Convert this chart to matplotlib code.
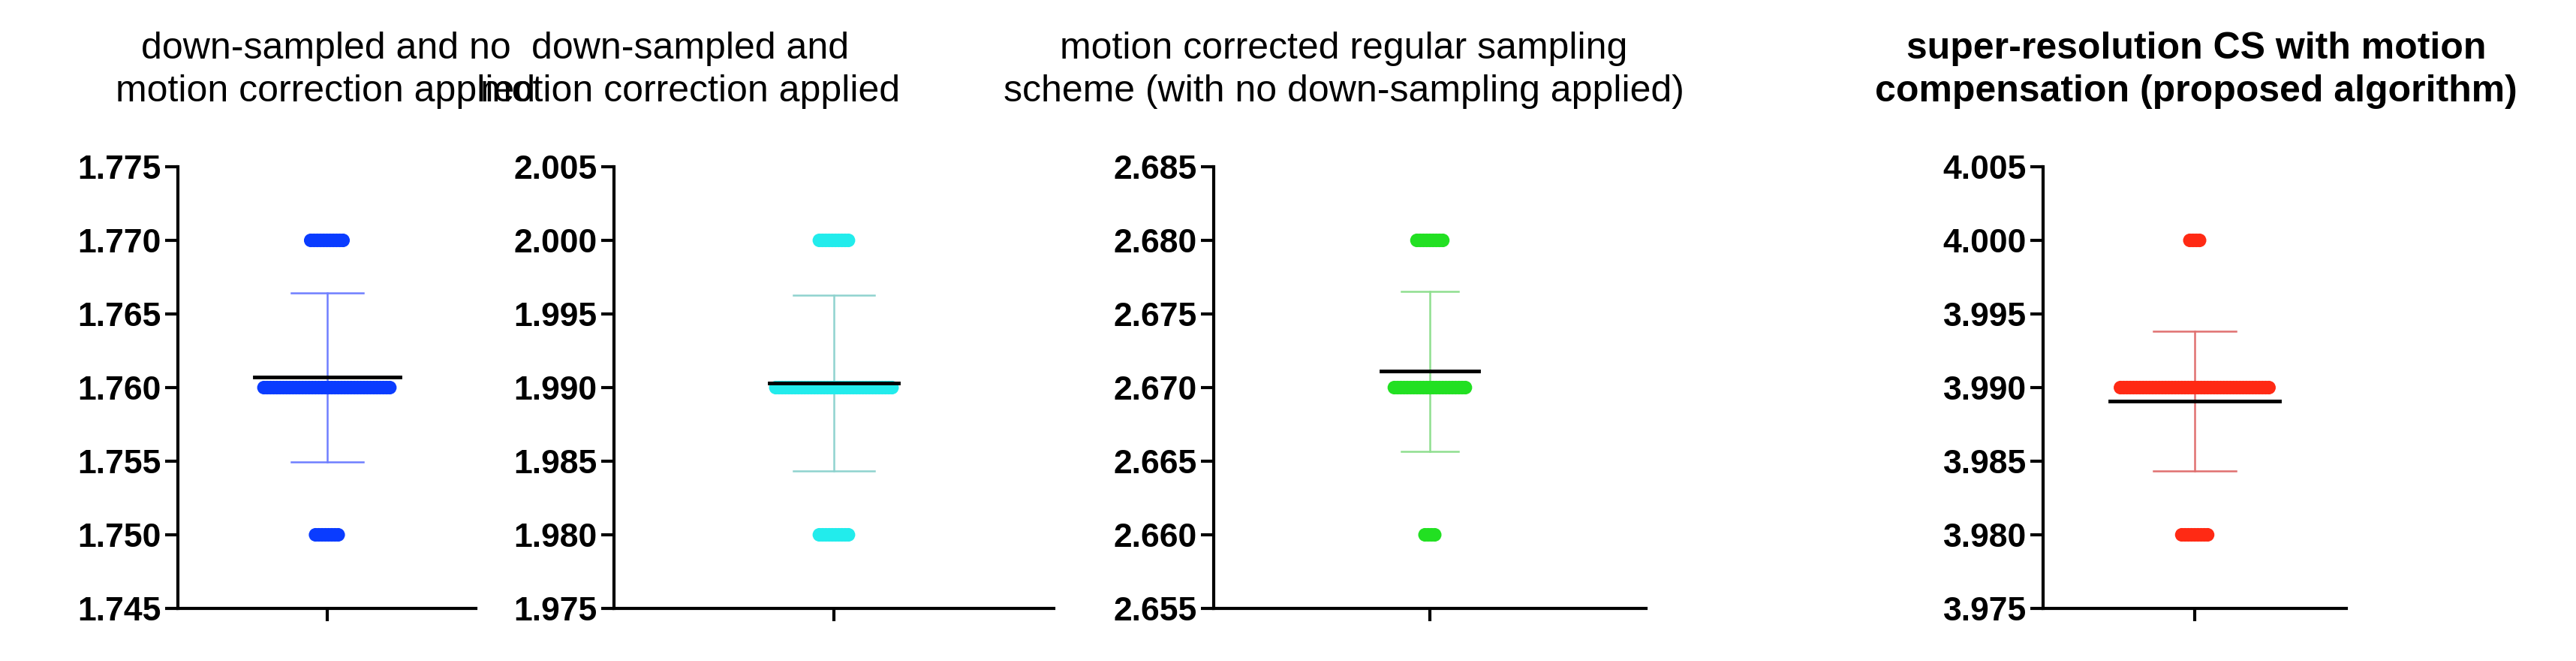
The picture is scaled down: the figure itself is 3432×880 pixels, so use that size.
import numpy as np
import matplotlib
matplotlib.use('Agg')
import matplotlib.pyplot as plt

plt.rcParams['font.family'] = ['Liberation Sans', 'DejaVu Sans']

titles = ['down-sampled and no\nmotion correction applied',
          'down-sampled and\nmotion correction applied',
          'motion corrected regular sampling\nscheme (with no down-sampling applied)',
          'super-resolution CS with motion\ncompensation (proposed algorithm)']
title_bold = [False, False, False, True]

# observed value levels and how many points sit on each level
levels = [[1.770, 1.760, 1.750],
          [2.000, 1.990, 1.980],
          [2.680, 2.670, 2.660],
          [4.000, 3.990, 3.980]]
counts = [[11, 40, 8],
          [10, 37, 10],
          [9, 23, 4],
          [4, 47, 9]]
means = [1.7607, 1.9903, 2.6711, 3.9891]
sds = [0.00575, 0.00595, 0.00545, 0.00475]

y_min = [1.745, 1.975, 2.655, 3.975]
y_max = [1.775, 2.005, 2.685, 4.005]

point_colors = ['#0a3cff', '#22ecec', '#22e022', '#ff2a14']
bar_colors = ['#6f7fff', '#8fd3cf', '#8fdf8f', '#e07070']

# layout in pixels (fig 3432x880)
W, H = 3432, 880
ax_x = [(237, 634), (818, 1404), (1617, 2193), (2722, 3126)]
ax_top, ax_bot = 222, 810
title_x = [434, 920, 1790, 2926]
mean_half_px = [97, 86, 65, 113]
cap_half_px = [48, 54, 38, 55]
px_per_unit = 200.0
spacing_px = 4.3

fig = plt.figure(figsize=(W / 100, H / 100), dpi=100)

for i in range(4):
    x0, x1 = ax_x[i]
    ax = fig.add_axes([x0 / W, 1 - ax_bot / H, (x1 - x0) / W, (ax_bot - ax_top) / H])
    half = (x1 - x0) / 2 / px_per_unit
    ax.set_xlim(-half, half)
    ax.set_ylim(y_min[i], y_max[i])

    for lv, n in zip(levels[i], counts[i]):
        xs = (np.arange(n) - (n - 1) / 2) * spacing_px / px_per_unit
        ax.scatter(xs, np.full(n, lv), s=170, color=point_colors[i],
                   edgecolors='none', zorder=2)

    m, s = means[i], sds[i]
    ch = cap_half_px[i] / px_per_unit
    ax.plot([0, 0], [m - s, m + s], color=bar_colors[i], lw=1.8, zorder=1)
    ax.plot([-ch, ch], [m + s, m + s], color=bar_colors[i], lw=1.8, zorder=1)
    ax.plot([-ch, ch], [m - s, m - s], color=bar_colors[i], lw=1.8, zorder=1)
    mh = mean_half_px[i] / px_per_unit
    ax.plot([-mh, mh], [m, m], color='black', lw=3.5, zorder=3)

    ticks = np.linspace(y_min[i], y_max[i], 7)
    ax.set_yticks(ticks)
    ax.set_yticklabels([f'{v:.3f}' for v in ticks], fontweight='bold', fontsize=32)
    ax.set_xticks([0])
    ax.set_xticklabels([''])
    for side in ['top', 'right']:
        ax.spines[side].set_visible(False)
    for side in ['left', 'bottom']:
        ax.spines[side].set_linewidth(3)
    ax.tick_params(width=3, length=12, pad=4)

    fig.text(title_x[i] / W, 1 - 42 / H, titles[i], ha='center', va='top',
             fontsize=36, fontweight='bold' if title_bold[i] else 'normal',
             linespacing=1.3)

fig.savefig('out.png', dpi=100, facecolor='white')
